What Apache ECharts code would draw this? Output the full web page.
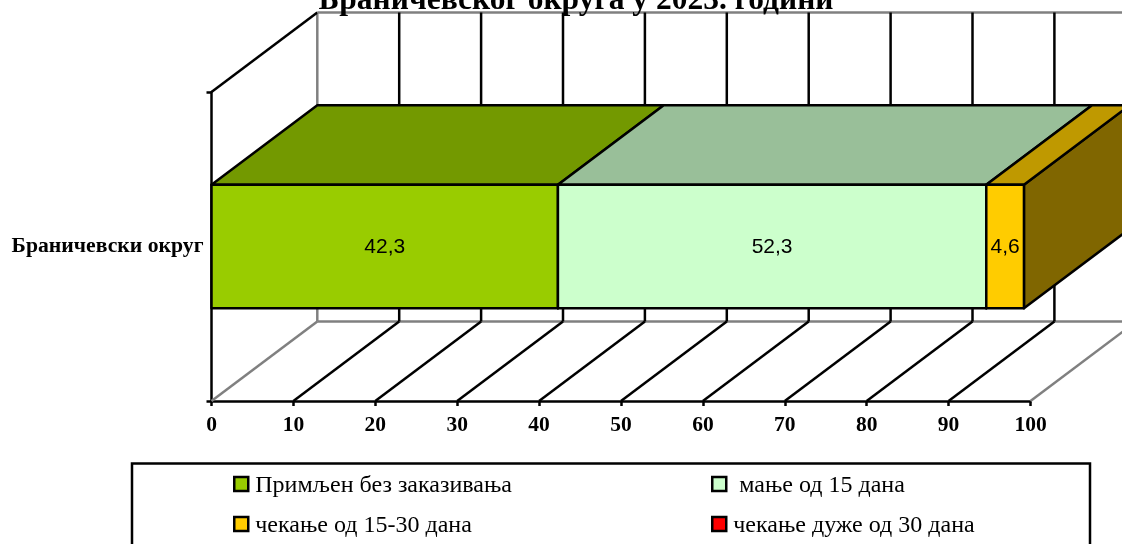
<!DOCTYPE html>
<html>
<head>
<meta charset="utf-8">
<script src="https://cdn.jsdelivr.net/npm/echarts@6/dist/echarts.min.js"></script>
<style>
html,body{margin:0;padding:0;background:#fff;overflow:hidden}
#chart{width:1122px;height:544px}
</style>
</head>
<body>
<div id="chart"></div>
<script>
// Waiting-time shares for one district, drawn as a stacked bar in an oblique box.
const titleText = 'Браничевског округа у 2023. години';
const categories = ['Браничевски округ'];
const seriesNames = ['Примљен без заказивања', 'мање од 15 дана', 'чекање од 15-30 дана', 'чекање дуже од 30 дана'];
const seriesValues = [42.3, 52.3, 4.6, 0];
const axisTicks = [0, 10, 20, 30, 40, 50, 60, 70, 80, 90, 100];

// Face colours per series: front, top, side.
const frontColors = ['#99CC00', '#CCFFCC', '#FFCC00', '#FF0000'];
const topColors = ['#739900', '#99BF99', '#BF9900', '#BF0000'];
const sideColors = ['#4D6600', '#668066', '#806600', '#800000'];

// Oblique projection offset of the box, and the share of the band the bar fills.
const DEPTH_X = 105.8;
const DEPTH_Y = -79.5;
const BAR_SHARE = 0.4;
const SERIF = '"Liberation Serif", serif';
const LINE = { stroke: '#000', lineWidth: 2.5, fill: null };
const GREY = { stroke: '#808080', lineWidth: 2.5, fill: null };

function line(x1, y1, x2, y2, style) {
  return { type: 'line', shape: { x1, y1, x2, y2 }, style };
}
function poly(points, fill) {
  return { type: 'polygon', shape: { points }, style: { fill, stroke: '#000', lineWidth: 2.5, lineJoin: 'round' } };
}

// Back wall, left wall and floor grid of the box.
function renderBox(params, api) {
  const v = api.value(0);
  const p = api.coord([v, 0]);
  const band = api.size([0, 1])[1];
  const top = p[1] - band / 2, bottom = p[1] + band / 2;
  const edge = v === 0 || v === 100;
  const kids = [
    line(p[0], bottom, p[0] + DEPTH_X, bottom + DEPTH_Y, edge ? GREY : LINE),
    line(p[0] + DEPTH_X, bottom + DEPTH_Y, p[0] + DEPTH_X, top + DEPTH_Y, edge ? GREY : LINE)
  ];
  if (v === 0) {
    const end = api.coord([100, 0])[0] + DEPTH_X;
    kids.push(line(p[0], top, p[0] + DEPTH_X, top + DEPTH_Y, LINE));
    kids.push(line(p[0] + DEPTH_X, top + DEPTH_Y, end, top + DEPTH_Y, GREY));
    kids.push(line(p[0] + DEPTH_X, bottom + DEPTH_Y, end, bottom + DEPTH_Y, GREY));
  }
  return { type: 'group', children: kids };
}

// One stacked segment: side, top and front faces plus the value label.
function renderSegment(index) {
  return function (params, api) {
    const start = api.value(0), end = api.value(1);
    if (end <= start) return null;
    const a = api.coord([start, 0]), b = api.coord([end, 0]);
    const h = api.size([0, 1])[1] * BAR_SHARE;
    const y0 = a[1] - h / 2, y1 = a[1] + h / 2;
    const x0 = a[0], x1 = b[0];
    return {
      type: 'group',
      children: [
        poly([[x1, y0], [x1 + DEPTH_X, y0 + DEPTH_Y], [x1 + DEPTH_X, y1 + DEPTH_Y], [x1, y1]], sideColors[index]),
        poly([[x0, y0], [x0 + DEPTH_X, y0 + DEPTH_Y], [x1 + DEPTH_X, y0 + DEPTH_Y], [x1, y0]], topColors[index]),
        poly([[x0, y0], [x1, y0], [x1, y1], [x0, y1]], frontColors[index]),
        {
          type: 'text',
          style: {
            x: (x0 + x1) / 2,
            y: (y0 + y1) / 2 + 1,
            text: String(seriesValues[index]).replace('.', ','),
            font: '21px "Liberation Sans", Arial, sans-serif',
            fill: '#000',
            align: 'center',
            verticalAlign: 'middle'
          }
        }
      ]
    };
  };
}

let running = 0;
const segmentSeries = seriesNames.map((name, i) => {
  const from = running;
  running += seriesValues[i];
  return {
    type: 'custom',
    name,
    coordinateSystem: 'cartesian2d',
    renderItem: renderSegment(i),
    encode: { x: [0, 1] },
    data: [[from, running]],
    itemStyle: { color: frontColors[i] },
    z: 3 + i,
    silent: true
  };
});

function legendItem(i, left, top, label) {
  return {
    show: true,
    data: [seriesNames[i]],
    left,
    top,
    padding: 0,
    orient: 'horizontal',
    icon: 'rect',
    itemWidth: 14,
    itemHeight: 14,
    selectedMode: false,
    itemStyle: { borderColor: '#000', borderWidth: 2.5 },
    formatter: () => '{t|' + label + '}',
    textStyle: {
      rich: {
        t: { fontFamily: SERIF, fontSize: 24, color: '#000', padding: [4, 0, 0, 2] }
      }
    }
  };
}

const chart = echarts.init(document.getElementById('chart'), null, { renderer: 'canvas' });
chart.setOption({
  animation: false,
  backgroundColor: '#fff',
  title: {
    text: titleText,
    left: 576,
    top: -15,
    textAlign: 'center',
    padding: 0,
    textStyle: { fontFamily: SERIF, fontSize: 31.5, fontWeight: 'bold', color: '#000' }
  },
  grid: { left: 211.5, width: 819, top: 92, height: 309, containLabel: false },
  xAxis: {
    type: 'value',
    min: 0,
    max: 100,
    interval: 10,
    axisLine: { show: true, lineStyle: { color: '#000', width: 2.5 } },
    axisTick: { show: true, length: 5, lineStyle: { color: '#000', width: 2.5 } },
    splitLine: { show: false },
    axisLabel: {
      margin: 13,
      fontFamily: SERIF,
      fontSize: 21.5,
      fontWeight: 'bold',
      color: '#000',
      showMinLabel: true,
      showMaxLabel: true,
      formatter: (v) => String(axisTicks[axisTicks.indexOf(v)])
    }
  },
  yAxis: {
    type: 'category',
    data: categories,
    axisLine: { show: true, lineStyle: { color: '#000', width: 2.5 } },
    axisTick: { show: true, length: 5, alignWithLabel: false, lineStyle: { color: '#000', width: 2.5 } },
    splitLine: { show: false },
    axisLabel: {
      margin: 8,
      fontFamily: SERIF,
      fontSize: 21.7,
      fontWeight: 'bold',
      color: '#000'
    }
  },
  legend: [
    legendItem(0, 233, 474, 'Примљен без заказивања'),
    legendItem(1, 711, 474, ' мање од 15 дана'),
    legendItem(2, 233, 514, 'чекање од 15-30 дана'),
    legendItem(3, 711, 514, 'чекање дуже од 30 дана')
  ],
  graphic: [{
    type: 'rect',
    silent: true,
    z: -1,
    shape: { x: 132, y: 463.5, width: 958, height: 90 },
    style: { fill: '#fff', stroke: '#000', lineWidth: 2.5 }
  }],
  series: [{
    type: 'custom',
    name: 'box',
    coordinateSystem: 'cartesian2d',
    renderItem: renderBox,
    encode: { x: 0 },
    data: axisTicks.map((v) => [v]),
    z: 2,
    silent: true
  }].concat(segmentSeries)
});
</script>
</body>
</html>
